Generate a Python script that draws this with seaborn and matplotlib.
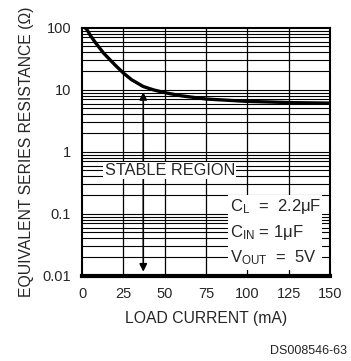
import matplotlib
matplotlib.use('Agg')
import matplotlib.pyplot as plt
from matplotlib.patches import Rectangle
import seaborn as sns
import pandas as pd

# data
load_ma = [1.8, 3, 5, 8, 13, 20, 25, 30, 37, 43, 50, 60, 75, 100, 128, 150]
esr_ohm = [100, 93, 75, 58, 39, 25, 18.6, 14.5, 11.3, 10.0, 9.0, 8.0, 7.1, 6.5, 6.2, 6.1]
x_ticks = [0, 25, 50, 75, 100, 125, 150]
y_ticks = [0.01, 0.1, 1, 10, 100]
y_labels = ['0.01', '0.1', '1', '10', '100']
cond_lines = [r'C$_\mathregular{L}$  =  2.2$\mathregular{\mu}$F',
              r'C$_\mathregular{IN}$ = 1$\mathregular{\mu}$F',
              r'V$_\mathregular{OUT}$  =  5V']
cond_y = [0.13, 0.05, 0.0195]

sns.set_style('white')
plt.rcParams['font.family'] = ['Liberation Sans', 'DejaVu Sans']
plt.rcParams['mathtext.fontset'] = 'custom'
plt.rcParams['mathtext.rm'] = 'Liberation Sans'
plt.rcParams['mathtext.it'] = 'Liberation Sans'

df = pd.DataFrame({'load': load_ma, 'esr': esr_ohm})

fig = plt.figure(figsize=(3.51, 3.61), dpi=100)
ax = fig.add_axes([0.234, 0.236, 0.706, 0.687])
ax.set_yscale('log')
ax.set_xlim(0, 150)
ax.set_ylim(0.01, 100)

# grid: vertical every 25 mA, horizontal at every 1..9 x decade
for xv in x_ticks[1:-1]:
    ax.axvline(xv, color='black', lw=0.9, zorder=1)
for dec in [0.01, 0.1, 1, 10]:
    for m in range(1, 10):
        ax.axhline(dec * m, color='black', lw=0.8, zorder=1)

sns.lineplot(data=df, x='load', y='esr', ax=ax, color='black', lw=2.4, zorder=3)

# arrows from the label to the curve and down to the axis
ax.annotate('', xy=(37, 10.2), xytext=(37, 0.55),
            arrowprops=dict(arrowstyle='-|>', color='black', lw=1.2, mutation_scale=11), zorder=4)
ax.annotate('', xy=(37, 0.0105), xytext=(37, 0.45),
            arrowprops=dict(arrowstyle='-|>', color='black', lw=1.2, mutation_scale=11), zorder=4)

ax.text(53, 0.5, 'STABLE REGION', ha='center', va='center', fontsize=11.7,
        bbox=dict(facecolor='white', edgecolor='none', pad=1), zorder=5)

# white panel behind the test conditions
ax.add_patch(Rectangle((88, 0.0125), 57, 0.2 - 0.0125, facecolor='white',
                       edgecolor='none', zorder=4))
for txt, yv in zip(cond_lines, cond_y):
    ax.text(89.5, yv, txt, ha='left', va='center', fontsize=12, zorder=5)

ax.set_xticks(x_ticks)
ax.set_xticklabels([str(t) for t in x_ticks])
ax.set_yticks(y_ticks)
ax.set_yticklabels(y_labels)
ax.minorticks_off()
ax.tick_params(axis='both', labelsize=10.5, length=0, pad=8)
ax.set_xlabel('LOAD CURRENT (mA)', fontsize=11.3, labelpad=7)
ax.set_ylabel('EQUIVALENT SERIES RESISTANCE (Ω)', fontsize=11.3, labelpad=6)

for side, sp in ax.spines.items():
    sp.set_color('black')
    sp.set_linewidth(1.5)
    sp.set_zorder(6)
ax.spines['bottom'].set_linewidth(3)

fig.text(0.988, 0.012, 'DS008546-63', ha='right', va='bottom', fontsize=9)

fig.savefig('out.png', dpi=100)
plt.close(fig)
